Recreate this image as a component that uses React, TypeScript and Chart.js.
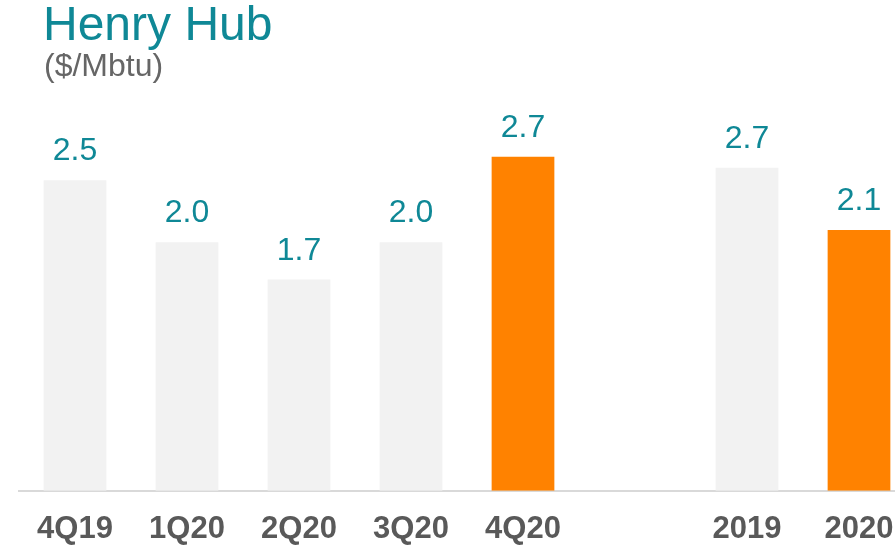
import React, { useEffect, useRef } from "react";
import { Chart, registerables } from "chart.js";

Chart.register(...registerables);

const categories = ["4Q19", "1Q20", "2Q20", "3Q20", "4Q20", "", "2019", "2020"];
const values = [2.5, 2.0, 1.7, 2.0, 2.69, null, 2.6, 2.1];
const valueLabels = ["2.5", "2.0", "1.7", "2.0", "2.7", "", "2.7", "2.1"];
const highlighted = [false, false, false, false, true, false, false, true];

const TEAL = "#0f8896";
const GRAY_BAR = "#f2f2f2";
const ORANGE = "#ff8200";
const AXIS_TEXT = "#595959";
const FONT = "'Liberation Sans', Arial, sans-serif";

const valueLabelPlugin = {
  id: "valueLabels",
  afterDatasetsDraw(chart: any) {
    const ctx = chart.ctx;
    const meta = chart.getDatasetMeta(0);
    ctx.save();
    ctx.fillStyle = TEAL;
    ctx.font = `32px ${FONT}`;
    ctx.textAlign = "center";
    ctx.textBaseline = "alphabetic";
    meta.data.forEach((bar: any, i: number) => {
      const txt = valueLabels[i];
      if (!txt || values[i] == null) return;
      ctx.fillText(txt, bar.x, bar.y - 20);
    });
    ctx.restore();
  },
};

export default function App() {
  const ref = useRef<HTMLCanvasElement>(null);
  useEffect(() => {
    if (!ref.current) return;
    const chart = new Chart(ref.current, {
      type: "bar",
      data: {
        labels: categories,
        datasets: [
          {
            data: values as any,
            backgroundColor: highlighted.map((h) => (h ? ORANGE : GRAY_BAR)),
            borderWidth: 0,
            barPercentage: 0.56,
            categoryPercentage: 1,
          },
        ],
      },
      options: {
        animation: false,
        responsive: false,
        layout: { padding: { left: 19, right: 5, top: 56, bottom: -23 } },
        plugins: {
          legend: { display: false },
          tooltip: { enabled: false },
          title: { display: false },
        },
        scales: {
          x: {
            grid: { display: false, drawTicks: false },
            border: { display: true, color: "#d9d9d9", width: 2 },
            ticks: {
              color: AXIS_TEXT,
              font: { family: FONT, size: 31, weight: "bold" },
              padding: 20.5,
              maxRotation: 0,
              autoSkip: false,
            },
          },
          y: {
            display: false,
            min: 0,
            max: 3.5,
          },
        },
      },
      plugins: [valueLabelPlugin],
    });
    return () => chart.destroy();
  }, []);

  return (
    <div
      style={{
        position: "absolute",
        left: 0,
        top: 0,
        width: 895,
        height: 546,
        overflow: "hidden",
        background: "#fff",
      }}
    >
      <canvas ref={ref} width={920} height={546} style={{ display: "block" }} />
      <div
        style={{
          position: "absolute",
          left: 43,
          top: 0,
          fontFamily: FONT,
          fontSize: 48,
          color: TEAL,
          lineHeight: "48px",
          whiteSpace: "nowrap",
        }}
      >
        Henry Hub
      </div>
      <div
        style={{
          position: "absolute",
          left: 44,
          top: 49,
          fontFamily: FONT,
          fontSize: 32,
          color: "#666666",
          lineHeight: "32px",
          whiteSpace: "nowrap",
        }}
      >
        ($/Mbtu)
      </div>
    </div>
  );
}
